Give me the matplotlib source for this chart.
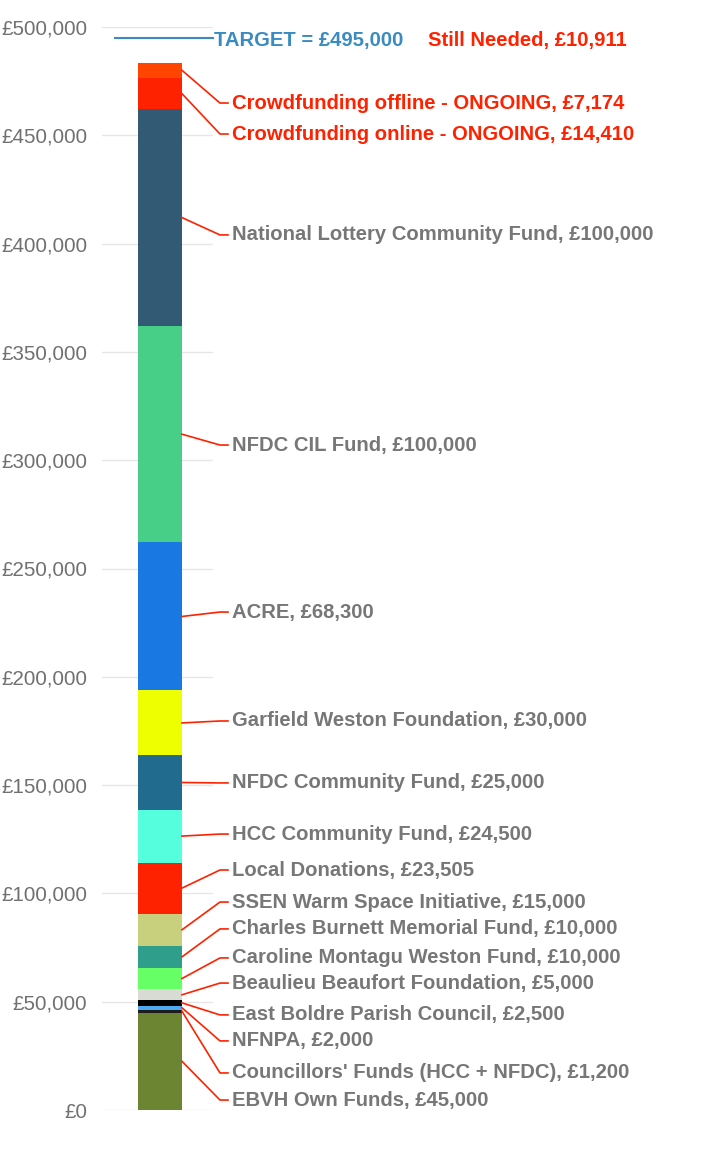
import matplotlib
matplotlib.use("Agg")
import matplotlib.pyplot as plt

# Stack, bottom to top
names = ["EBVH Own Funds", "Councillors' Funds (HCC + NFDC)", "NFNPA", "East Boldre Parish Council",
         "Beaulieu Beaufort Foundation", "Caroline Montagu Weston Fund", "Charles Burnett Memorial Fund",
         "SSEN Warm Space Initiative", "Local Donations", "HCC Community Fund", "NFDC Community Fund",
         "Garfield Weston Foundation", "ACRE", "NFDC CIL Fund", "National Lottery Community Fund",
         "Crowdfunding online - ONGOING", "Crowdfunding offline - ONGOING"]
values = [45000, 1200, 2000, 2500, 5000, 10000, 10000, 15000, 23505, 24500, 25000, 30000,
          68300, 100000, 100000, 14410, 7174]
colors = ["#6b8532", "#1c1c1c", "#4fa8f0", "#000000", "#d8dad4", "#66ff66", "#2f9e8a",
          "#c8d07e", "#ff2200", "#55ffdd", "#206b8e", "#eeff00", "#1a78e2", "#47cf87",
          "#325a75", "#ff2200", "#ff4500"]
# label vertical positions (data units)
label_y = [4600, 17100, 31900, 43900, 58600, 70200, 83600, 96000, 110800, 127400, 151000,
           179600, 229900, 307000, 404000, 450600, 464900]
highlight = [False]*15 + [True, True]

target = 495000
still_needed = 10911
yticks = list(range(0, 500001, 50000))

FAM = ["Liberation Sans", "DejaVu Sans"]
LFS = 14.6

fig = plt.figure(figsize=(7.03, 11.68), dpi=100)
ax = fig.add_axes([102/703, 58/1168, 111/703, 1083/1168])
ax.set_xlim(0, 1)
ax.set_ylim(0, 500000)
for s in ax.spines.values():
    s.set_visible(False)
ax.set_xticks([])
ax.set_yticks(yticks)
ax.set_yticklabels(["£{:,}".format(v) for v in yticks], fontsize=14.8, color="#707070", family=FAM)
ax.tick_params(axis="y", length=0, pad=10.5)
ax.grid(axis="y", color="#e6e6e6", linewidth=1)
ax.set_axisbelow(True)

bx = 0.5225
bw = 0.396
bottom = 0
grey = "#777777"
red = "#ff2200"
for n, v, c, ly, hl in zip(names, values, colors, label_y, highlight):
    ax.bar(bx, v, width=bw, bottom=bottom, color=c, linewidth=0)
    mid = bottom + v / 2
    edge = bx + bw / 2
    ax.plot([edge, 1.063, 1.135], [mid, ly, ly], color=red, linewidth=1.2, clip_on=False)
    ax.text(1.171, ly, "{}, £{:,}".format(n, v), fontsize=LFS, fontweight="bold",
            color=red if hl else grey, va="center", ha="left", family=FAM, clip_on=False)
    bottom += v

tc = "#3a8bc0"
ax.plot([0.117, 1.0], [target, target], color=tc, linewidth=1.5, clip_on=False)
ax.text(1.01, target - 1300, "TARGET = £{:,}".format(target), fontsize=LFS, fontweight="bold",
        color=tc, va="center", ha="left", family=FAM, clip_on=False)
ax.text(2.937, target - 1300, "Still Needed, £{:,}".format(still_needed), fontsize=LFS, fontweight="bold",
        color=red, va="center", ha="left", family=FAM, clip_on=False)

fig.savefig("out.png", dpi=100)
